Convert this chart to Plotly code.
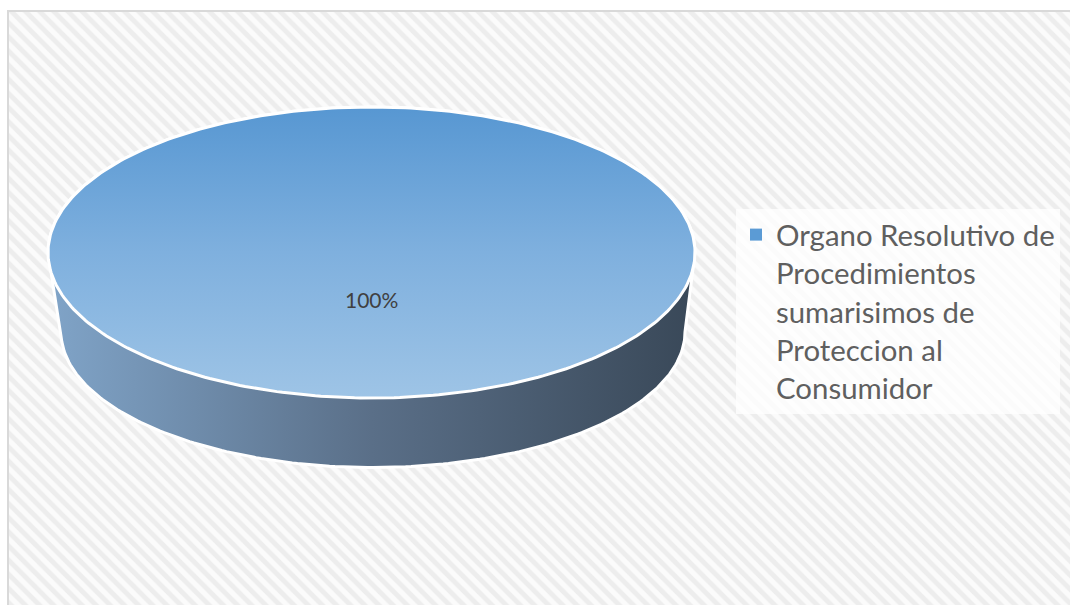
import numpy as np
import plotly.graph_objects as go

# Data
categories = ["Organo Resolutivo de Procedimientos sumarisimos de Proteccion al Consumidor"]
values = [100]
legend_lines = ["Organo Resolutivo de", "Procedimientos", "sumarisimos de", "Proteccion al", "Consumidor"]

W, H = 1070, 605

# Geometry of the tilted disc (axis units == pixels)
CX, CY, RX, RY = 371.5, 252.5, 323.5, 145.5          # top face
BCX, BCY, BRX, BRY = 373.0, 332.0, 312.0, 135.5     # bottom rim

total = sum(values)
share = values[0] / total
theta0 = -np.pi / 2
theta = np.linspace(theta0, theta0 + 2 * np.pi * share, 361)

top_x = CX + RX * np.cos(theta)
top_y = CY + RY * np.sin(theta)

# Side wall: left edge of top face -> lower half of bottom rim -> right edge -> back over the top face
a_low = np.linspace(np.pi, 0, 181)
a_up = np.linspace(0, -np.pi, 181)
side_x = np.concatenate([[CX - RX], BCX + BRX * np.cos(a_low), [CX + RX], CX + RX * np.cos(a_up)])
side_y = np.concatenate([[CY], BCY + BRY * np.sin(a_low), [CY], CY + RY * np.sin(a_up)])

fig = go.Figure()

# Hatched chart area
fig.add_trace(go.Scatter(
    x=[8, W, W, 8, 8], y=[11, 11, H, H, 11],
    mode="none", fill="toself",
    fillcolor="#fbfbfb",
    fillpattern=dict(shape="\\", fgcolor="#e0e0e0", bgcolor="#fbfbfb", size=10, solidity=0.5),
    hoverinfo="skip", showlegend=False,
))
# Chart area border (left and top edges inside the view)
fig.add_trace(go.Scatter(
    x=[8, 8, W], y=[H, 11, 11], mode="lines",
    line=dict(color="#d9d9d9", width=2),
    hoverinfo="skip", showlegend=False,
))

# Side wall of the disc
fig.add_trace(go.Scatter(
    x=side_x, y=side_y, mode="lines", fill="toself",
    line=dict(color="white", width=3),
    fillgradient=dict(type="horizontal", start=CX - RX, stop=CX + RX,
                      colorscale=[[0, "#80a4c8"], [0.5, "#5a6f88"], [1, "#394858"]]),
    hoverinfo="skip", showlegend=False,
))

# Top face of the slice
fig.add_trace(go.Scatter(
    x=top_x, y=top_y, mode="lines", fill="toself",
    line=dict(color="white", width=3),
    fillgradient=dict(type="vertical", start=CY - RY, stop=CY + RY,
                      colorscale=[[0, "#5797d2"], [0.5, "#7fb0de"], [1, "#9ec4e6"]]),
    hoverinfo="skip", showlegend=False,
))

# Legend entry
fig.add_trace(go.Scatter(
    x=[None], y=[None], mode="markers",
    marker=dict(symbol="square", size=8, color="#5b9bd5"),
    name="<br>".join(legend_lines), showlegend=True,
))

# Data label
fig.add_annotation(
    x=CX, y=CY + 47, text=f"{share:.0%}", showarrow=False,
    font=dict(family="Lato", size=21, color="#404040"),
)

fig.update_layout(
    width=W, height=H,
    margin=dict(l=0, r=0, t=0, b=0),
    paper_bgcolor="white", plot_bgcolor="white",
    xaxis=dict(range=[0, W], visible=False, fixedrange=True),
    yaxis=dict(range=[H, 0], visible=False, fixedrange=True),
    showlegend=True,
    legend=dict(
        x=736 / W, y=1 - 209 / H, xanchor="left", yanchor="top",
        bgcolor="rgba(255,255,255,0.75)", borderwidth=0,
        font=dict(family="Lato", size=29.4, color="#5f5f5f"),
        valign="top", itemsizing="constant", tracegroupgap=0,
        entrywidth=380, entrywidthmode="pixels",
    ),
)

fig.write_html("out.html")
